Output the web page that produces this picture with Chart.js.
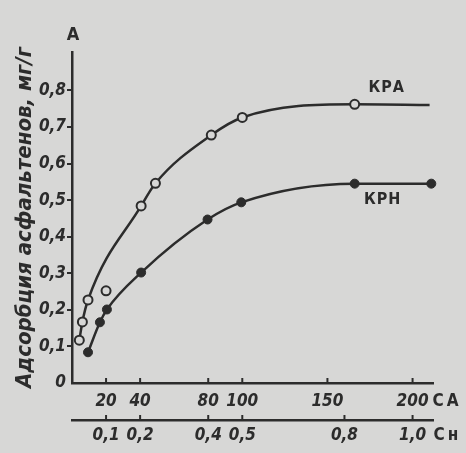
<!DOCTYPE html>
<html><head><meta charset="utf-8">
<script src="https://cdn.jsdelivr.net/npm/chart.js@4/dist/chart.umd.min.js"></script>
<style>html,body{margin:0;padding:0;background:#d7d7d6;overflow:hidden}</style>
</head><body>
<canvas id="c" width="466" height="453"></canvas>
<script>
// ---- data ----
const caKRA = [4.3, 6.1, 9.4, 40.6, 49, 81.8, 100, 166, 210];
const valKRA = [0.117, 0.167, 0.227, 0.484, 0.546, 0.678, 0.726, 0.762, 0.760];
const caKRAextra = [20];
const valKRAextra = [0.252];
const caKRN = [9.4, 16.4, 20.5, 40.6, 79.6, 99.4, 166, 211];
const valKRN = [0.084, 0.166, 0.201, 0.302, 0.447, 0.494, 0.545, 0.545];
const caTicks = [20, 40, 80, 100, 150, 200];
const caTickLabels = ['20', '40', '80', '100', '150', '200'];
const cnTicks = [0.1, 0.2, 0.4, 0.5, 0.8, 1.0];
const cnTickLabels = ['0,1', '0,2', '0,4', '0,5', '0,8', '1,0'];
const yTicks = [0, 0.1, 0.2, 0.3, 0.4, 0.5, 0.6, 0.7, 0.8];
const yTickLabels = ['0', '0,1', '0,2', '0,3', '0,4', '0,5', '0,6', '0,7', '0,8'];
const seriesNames = ['КРА', 'КРН'];
const yTitle = 'Адсорбция асфальтенов, мг/г';
const yAxisLetter = 'А';
const caUnit = 'СА';
const cnUnit = 'Сн';

// ---- styling ----
const INK = '#2c2c2c';
const BG = '#d7d7d6';
const COND = "'DejaVu Sans Condensed', 'DejaVu Sans', sans-serif";
const tickFont = {family: COND, size: 17, style: 'italic', weight: 'bold', lineHeight: 1};

const pts = (xs, ys) => xs.map((x, i) => ({x: x, y: ys[i]}));

const decor = {
  id: 'decor',
  afterDraw(chart) {
    const ctx = chart.ctx;
    const x = chart.scales.x, x2 = chart.scales.x2, y = chart.scales.y;
    ctx.save();
    ctx.strokeStyle = INK; ctx.fillStyle = INK; ctx.lineWidth = 2;
    // upward tick marks on both horizontal axes
    [[x, caTicks], [x2, cnTicks]].forEach(([s, tk]) => {
      tk.forEach(v => {
        const px = s.getPixelForValue(v);
        ctx.beginPath(); ctx.moveTo(px, s.top + 1); ctx.lineTo(px, s.top - 5); ctx.stroke();
      });
    });
    // unit labels
    ctx.font = "bold 17px " + COND;
    ctx.letterSpacing = '3px';
    ctx.textAlign = 'left'; ctx.textBaseline = 'middle';
    ctx.fillText(caUnit, x.getPixelForValue(caTicks[caTicks.length - 1]) + 20, x.top + 19);
    ctx.fillText(cnUnit, x2.getPixelForValue(cnTicks[cnTicks.length - 1]) + 21, x2.top + 16);
    ctx.letterSpacing = '0px';
    // axis letter
    ctx.font = "bold 18px " + COND;
    ctx.textAlign = 'center';
    ctx.fillText(yAxisLetter, chart.chartArea.left + 1, chart.chartArea.top - 17);
    // series labels
    ctx.font = "bold 16px " + COND;
    ctx.letterSpacing = '1px';
    const i1 = caKRA.length - 2, i2 = caKRN.length - 2;
    ctx.fillText(seriesNames[0], x.getPixelForValue(caKRA[i1]) + 32, y.getPixelForValue(valKRA[i1]) - 16);
    ctx.fillText(seriesNames[1], x.getPixelForValue(caKRN[i2]) + 28, y.getPixelForValue(valKRN[i2]) + 16);
    ctx.restore();
  }
};

new Chart(document.getElementById('c'), {
  type: 'line',
  data: {
    datasets: [
      {
        label: seriesNames[0], data: pts(caKRA, valKRA), xAxisID: 'x', yAxisID: 'y',
        borderColor: INK, borderWidth: 2.5, cubicInterpolationMode: 'monotone',
        pointRadius: c => (c.dataIndex === caKRA.length - 1 ? 0 : 4.5),
        pointBorderWidth: 2, pointBorderColor: INK, pointBackgroundColor: BG, clip: false
      },
      {
        label: seriesNames[0] + ' *', data: pts(caKRAextra, valKRAextra), xAxisID: 'x', yAxisID: 'y',
        showLine: false, pointRadius: 4.5, pointBorderWidth: 2, pointBorderColor: INK,
        pointBackgroundColor: BG, clip: false
      },
      {
        label: seriesNames[1], data: pts(caKRN, valKRN), xAxisID: 'x', yAxisID: 'y',
        borderColor: INK, borderWidth: 2.5, cubicInterpolationMode: 'monotone',
        pointRadius: 4.5, pointBorderWidth: 1, pointBorderColor: INK, pointBackgroundColor: INK, clip: false
      }
    ]
  },
  options: {
    responsive: false, animation: false,
    layout: {padding: {top: 52, right: 33, bottom: 0, left: 0}},
    plugins: {legend: {display: false}, tooltip: {enabled: false}},
    scales: {
      x: {
        type: 'linear', position: 'bottom', min: 0, max: 212,
        afterBuildTicks: s => { s.ticks = caTicks.map(v => ({value: v})); },
        afterFit: s => { s.height = 37; },
        grid: {display: false, drawTicks: false},
        border: {display: true, color: INK, width: 2.5},
        ticks: {autoSkip: false, maxRotation: 0, padding: 10, color: INK, font: tickFont,
                callback: (v, i) => caTickLabels[i]}
      },
      x2: {
        type: 'linear', position: 'bottom', min: 0, max: 1.06,
        afterBuildTicks: s => { s.ticks = cnTicks.map(v => ({value: v})); },
        afterFit: s => { s.height = 33; },
        grid: {display: false, drawTicks: false},
        border: {display: true, color: INK, width: 2.5},
        ticks: {autoSkip: false, maxRotation: 0, padding: 7, color: INK, font: tickFont,
                callback: (v, i) => cnTickLabels[i]}
      },
      y: {
        type: 'linear', position: 'left', min: 0, max: 0.905,
        afterBuildTicks: s => { s.ticks = yTicks.map(v => ({value: v})); },
        afterFit: s => { s.width = 72; },
        grid: {display: true, drawOnChartArea: false, drawTicks: true, tickLength: 5, lineWidth: 2,
               color: c => (c.tick && c.tick.value === 0 ? 'rgba(0,0,0,0)' : INK)},
        border: {display: true, color: INK, width: 2.5},
        ticks: {autoSkip: false, padding: 1, color: INK, font: {family: COND, size: 17, style: 'italic', weight: 'bold', lineHeight: 1},
                callback: (v, i) => yTickLabels[i]},
        title: {display: true, text: yTitle, color: INK, padding: {top: 14, bottom: 0},
                font: {family: COND, size: 22, style: 'italic', weight: 'bold', lineHeight: 1}}
      }
    }
  },
  plugins: [decor]
});
</script>
</body></html>
